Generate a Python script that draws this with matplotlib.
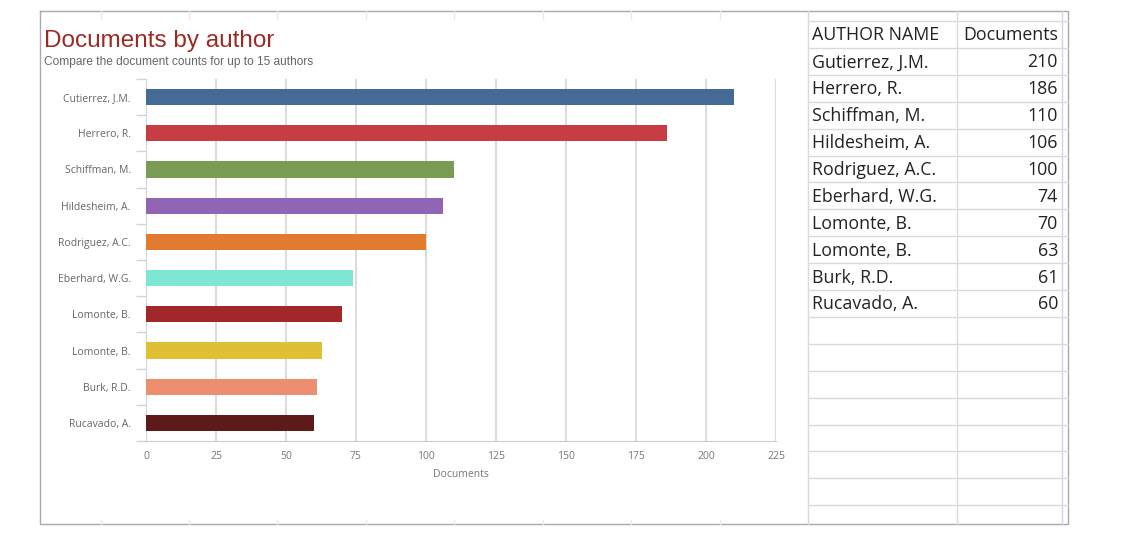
import matplotlib.pyplot as plt
from matplotlib.lines import Line2D

plt.rcParams['font.family'] = ['Open Sans', 'DejaVu Sans']

# data
authors = ["Gutierrez, J.M.", "Herrero, R.", "Schiffman, M.", "Hildesheim, A.",
           "Rodriguez, A.C.", "Eberhard, W.G.", "Lomonte, B.", "Lomonte, B.",
           "Burk, R.D.", "Rucavado, A."]
chart_labels = ["Cutierrez, J.M.", "Herrero, R.", "Schiffman, M.", "Hildesheim, A.",
                "Rodriguez, A.C.", "Eberhard, W.G.", "Lomonte, B.", "Lomonte, B.",
                "Burk, R.D.", "Rucavado, A."]
documents = [210, 186, 110, 106, 100, 74, 70, 63, 61, 60]
colors = ["#466a98", "#c63e43", "#789d52", "#9164b5", "#e27a30",
          "#7ee6d3", "#a3262a", "#dfbf34", "#ec8e6f", "#5e1a1a"]
x_ticks = list(range(0, 226, 25))

W, H = 1128, 550
fig = plt.figure(figsize=(W / 100, H / 100), dpi=100)

# background layer in pixel coords (frame + spreadsheet table)
bg = fig.add_axes([0, 0, 1, 1])
bg.set_xlim(0, W)
bg.set_ylim(H, 0)
bg.axis("off")

frame = "#a9a9a9"
grid = "#dadade"
bg.add_line(Line2D([40, 1068, 1068, 40, 40], [11, 11, 524, 524, 11], color=frame, lw=1))

# faint spreadsheet column marks behind the chart
for cx in range(100, 800, 88):
    bg.add_line(Line2D([cx + 0.5 * (cx // 100), cx + 0.5 * (cx // 100)], [11, 19], color="#e8e8e8", lw=1))
    bg.add_line(Line2D([cx + 0.5 * (cx // 100), cx + 0.5 * (cx // 100)], [520, 524], color="#e8e8e8", lw=1))

# table
row_top, row_h = 21, 26.9
n_rows = 19
bg.add_line(Line2D([808, 808], [11, 524], color=grid, lw=1))
bg.add_line(Line2D([957, 957], [11, 524], color=grid, lw=1))
bg.add_line(Line2D([1062, 1062], [11, 524], color="#d2d2e8", lw=1))
for r in range(n_rows):
    yy = row_top + r * row_h
    bg.add_line(Line2D([808, 1068], [yy, yy], color=grid, lw=1))

tfs = 12.8
bg.text(812, row_top + row_h * 0.5 + 1, "AUTHOR NAME", fontsize=tfs, color="#222222", va="center", ha="left")
bg.text(1058, row_top + row_h * 0.5 + 1, "Documents", fontsize=tfs, color="#222222", va="center", ha="right")
for i, (name, val) in enumerate(zip(authors, documents)):
    yc = row_top + row_h * (i + 1.5) + 1
    bg.text(812, yc, name, fontsize=tfs, color="#222222", va="center", ha="left")
    bg.text(1058, yc, str(val), fontsize=tfs, color="#222222", va="center", ha="right")

# titles
bg.text(44, 41, "Documents by author", fontsize=17.5, color="#9b2a22", va="center", ha="left",
        family="Liberation Sans")
bg.text(44, 62, "Compare the document counts for up to 15 authors", fontsize=8.6,
        color="#666666", va="center", ha="left", family="Liberation Sans")

# bar chart
ax = fig.add_axes([146 / W, (H - 441) / H, 630 / W, 362 / H])
pos = list(range(len(documents)))
ax.barh(pos, documents, height=0.45, color=colors, zorder=3)
ax.set_ylim(len(documents) - 0.5, -0.5)
ax.set_xlim(0, 225)
ax.set_xticks(x_ticks)
ax.set_yticks(pos)
ax.set_yticklabels(chart_labels)
ax.set_yticks([p - 0.5 for p in pos] + [len(pos) - 0.5], minor=True)
ax.tick_params(axis="y", which="major", length=0, pad=11, labelsize=7.5, labelcolor="#666666")
ax.tick_params(axis="y", which="minor", length=7, width=1, color="#cbd5e1")
ax.tick_params(axis="x", length=0, pad=7, labelsize=7.5, labelcolor="#777777")
ax.grid(axis="x", color="#dcdcdc", lw=1.5, zorder=0)
ax.set_axisbelow(True)
for s in ["top", "right"]:
    ax.spines[s].set_visible(False)
ax.spines["left"].set_color("#d6d6d6")
ax.spines["bottom"].set_color("#cccccc")
ax.set_xlabel("Documents", fontsize=7.5, color="#777777", labelpad=5)

fig.savefig("out.png", dpi=100)
